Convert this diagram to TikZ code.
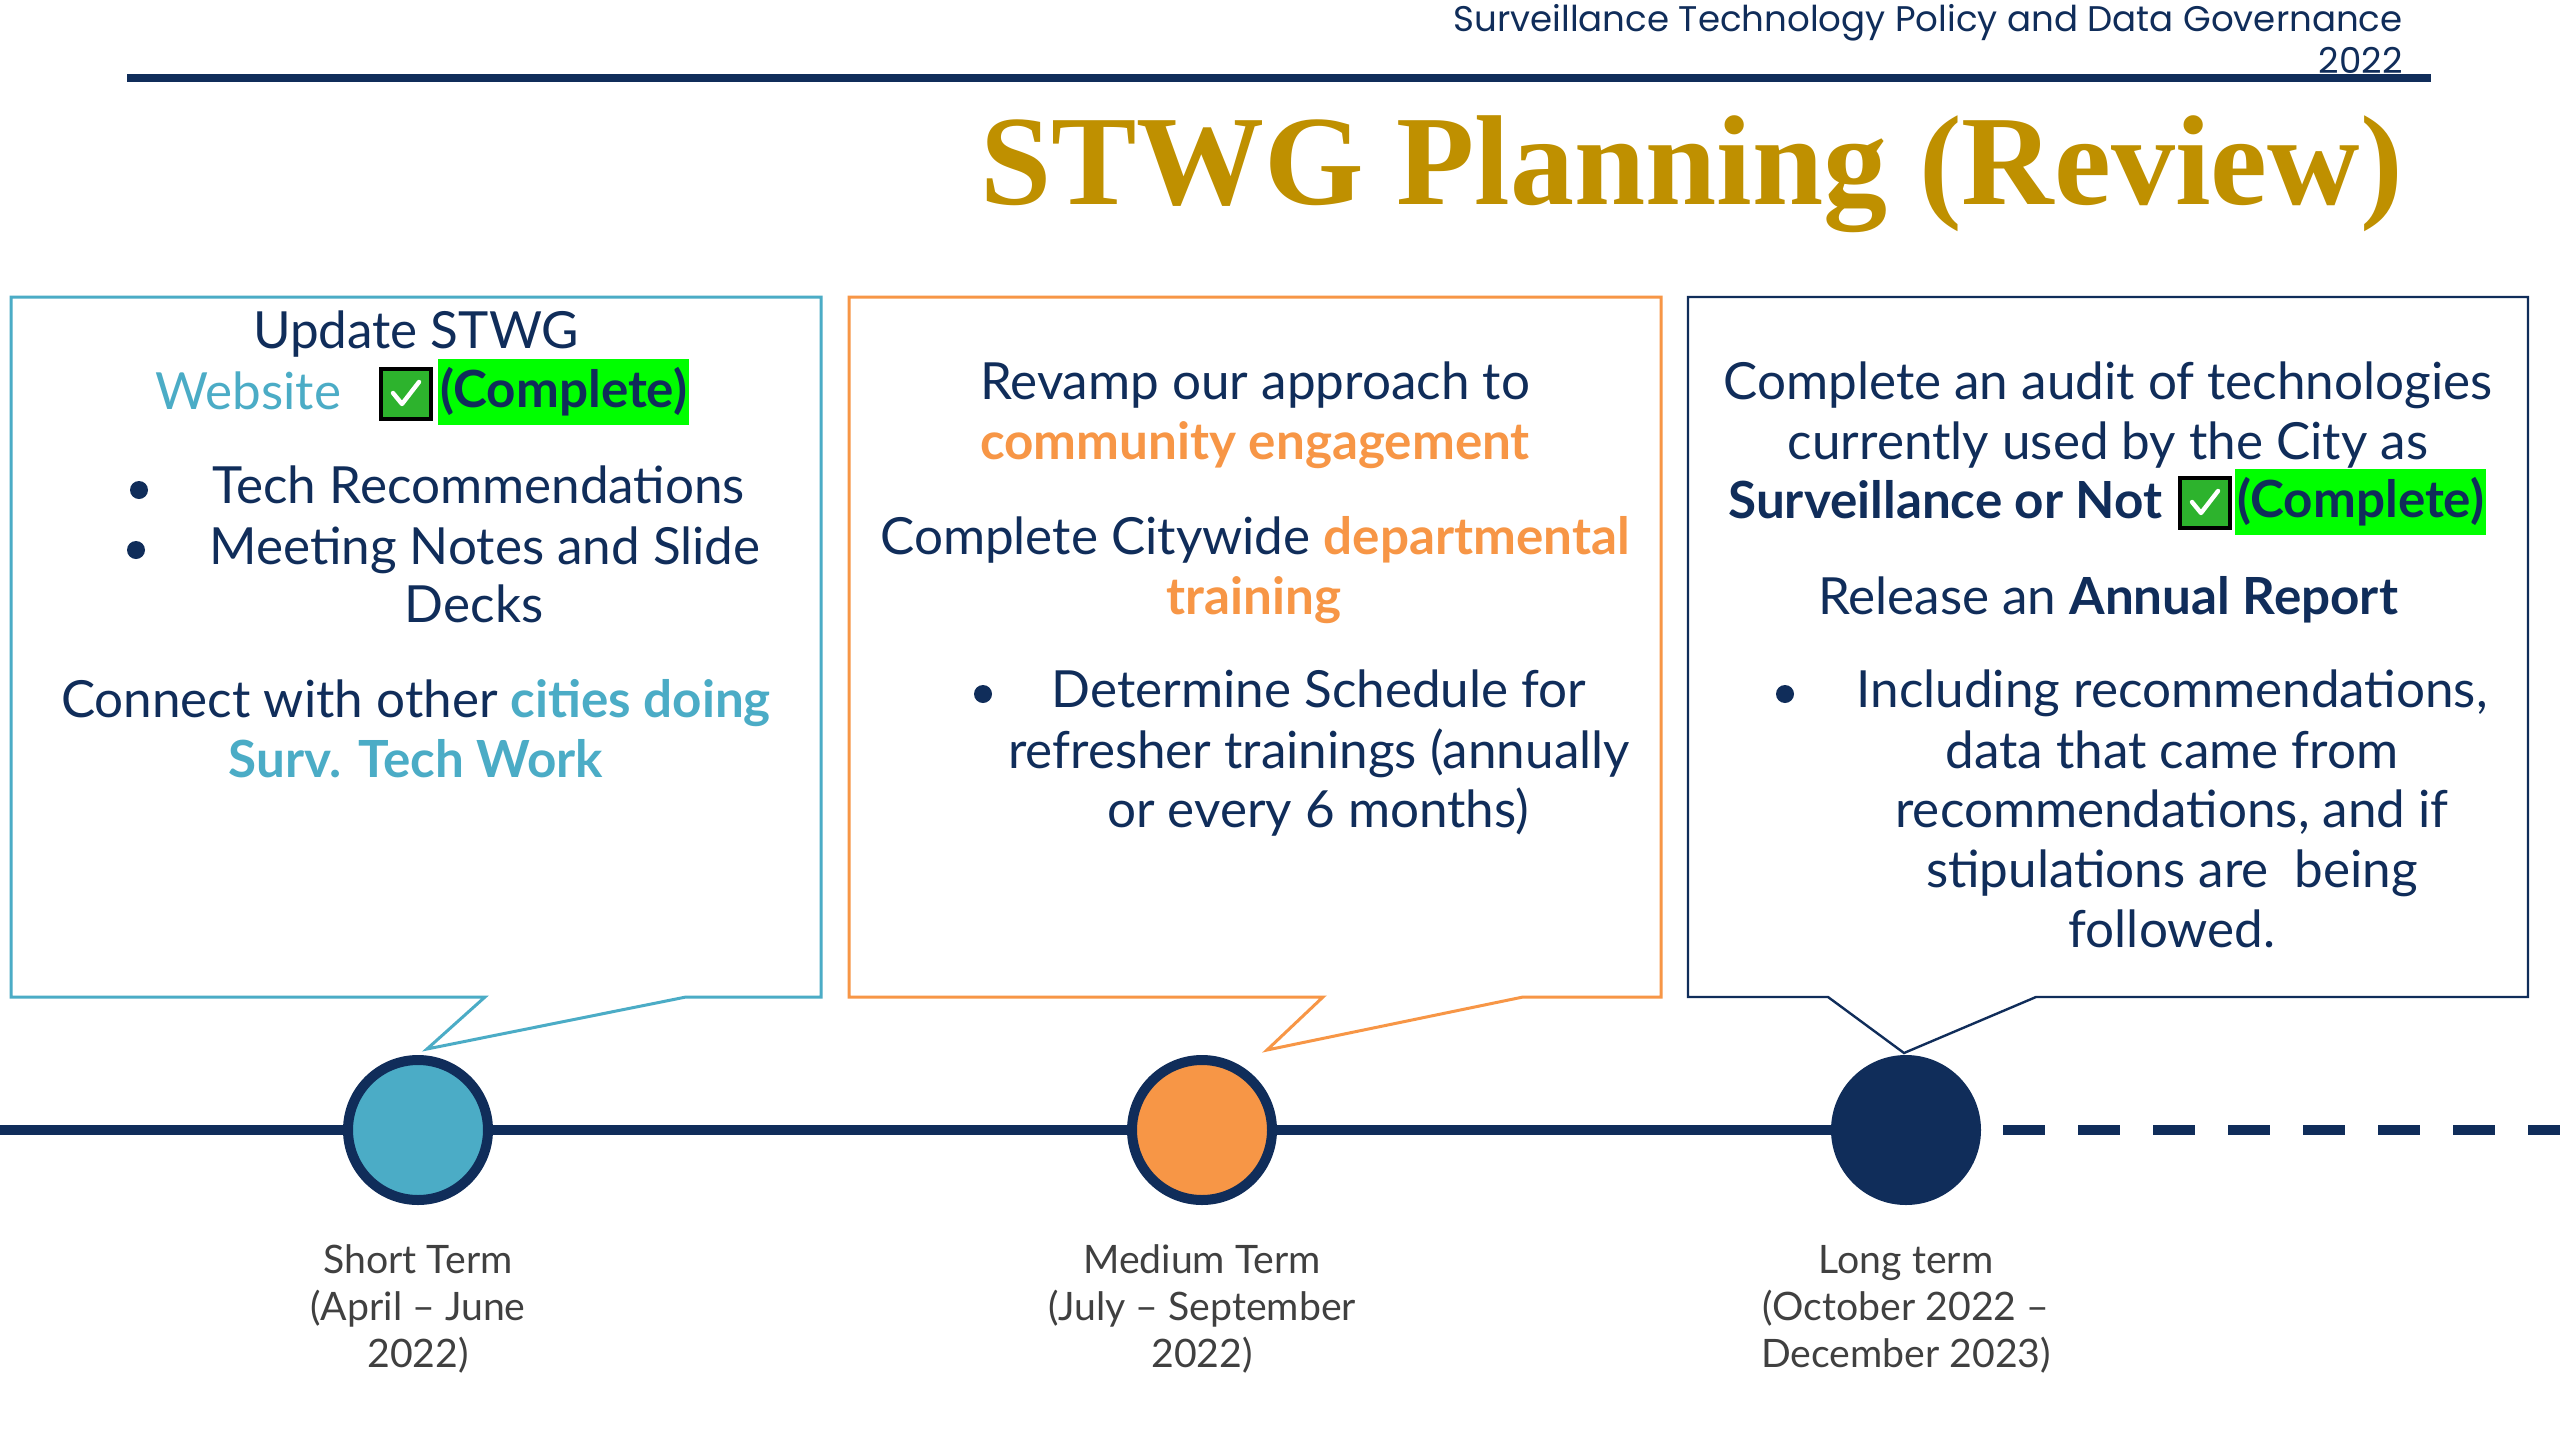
\documentclass[tikz,border=0pt]{standalone}
\usepackage{fontspec}
\setmainfont{Lato}
\newfontfamily\popfont{Poppins}
\newfontfamily\titlefont{Liberation Serif}
\definecolor{navy}{HTML}{102D5A}
\definecolor{stteal}{HTML}{4BACC6}
\definecolor{storange}{HTML}{F79646}
\definecolor{gold}{HTML}{BF9000}
\definecolor{hlgreen}{HTML}{00FF00}
\definecolor{chkgreen}{HTML}{2DB32D}
\definecolor{lblgrey}{HTML}{404040}
\begin{document}
\begin{tikzpicture}[x=0.5pt,y=-0.5pt,
  body/.style={font=\fontsize{25.6}{30}\selectfont, text=navy, inner sep=0pt, anchor=base},
  bbody/.style={body, font=\fontsize{25.6}{30}\selectfont\bfseries},
  lbl/.style={font=\fontsize{19.6}{23}\selectfont, text=lblgrey, inner sep=0pt, anchor=base},
  dot/.style={circle, fill=navy, inner sep=0pt, minimum size=9pt},
  chk/.style={draw=black, line width=2pt, fill=chkgreen, minimum size=25pt, inner sep=0pt},
  hl/.style={fill=hlgreen, inner xsep=1pt, inner ysep=0pt, minimum height=33pt, font=\fontsize{25.6}{30}\selectfont\bfseries, text=navy, anchor=west},
  tick/.style={draw=white, line width=2.2pt, line cap=round, line join=round},
  milestone/.style={circle, draw=navy, line width=5pt, minimum size=70pt, inner sep=0pt},
  tl/.style={draw=navy, line width=5pt}
]
\fill[white] (0,0) rectangle (2560,1440);
\useasboundingbox (0,0) rectangle (2560,1440);

% header
\node[font=\popfont\fontsize{17.8}{21}\selectfont, text=navy, inner sep=0pt, anchor=base east] (hdr1) at (2403,32) {Surveillance Technology Policy and Data Governance};
\node[font=\popfont\fontsize{17.8}{21}\selectfont, text=navy, inner sep=0pt, anchor=base east] (hdr2) at (2403,73) {2022};
\coordinate (rl) at (127,78);
\coordinate (rr) at (2431,78);
\draw[navy, line width=4pt] (rl) -- (rr);
\node[font=\titlefont\bfseries\fontsize{64}{70}\selectfont, text=gold, inner sep=0pt, anchor=base east] (title) at (2403,204) {STWG Planning (Review)};

% callout boxes
\draw[stteal, line width=1.5pt, fill=white] (11,297) -- (821,297) -- (821,997) -- (686,997) -- (427,1049) -- (485,997) -- (11,997) -- cycle;
\draw[storange, line width=1.5pt, fill=white] (849,297) -- (1661,297) -- (1661,997) -- (1523,997) -- (1267,1050) -- (1323,997) -- (849,997) -- cycle;
\draw[navy, line width=1.2pt, fill=white] (1688,297) -- (2528,297) -- (2528,997) -- (2036,997) -- (1904,1053) -- (1828,997) -- (1688,997) -- cycle;

% box 1 text
\node[body] (a1) at (416,348) {Update STWG};
\node[body, anchor=base west, text=stteal] (a2) at (155,409) {Website};
\node[chk] (chka) at (406,394) {};
\draw[tick] (chka.center) ++(-13,-1) -- ++(9,11) -- ++(17,-22);
\node[hl] (cpa) at (438,392) {(Complete)};
\node[dot] (ba1) at (139,490) {};
\node[body, anchor=base west] (a3) at (212,503) {Tech Recommendations};
\node[dot] (ba2) at (136,550) {};
\node[body, anchor=base west] (a4) at (209,564) {Meeting Notes and Slide};
\node[body] (a5) at (474,622) {Decks};
\node[body] (a6) at (416,717) {Connect with other \textcolor{stteal}{\bfseries cities doing}};
\node[bbody, text=stteal] (a7) at (416,777) {Surv. Tech Work};

% box 2 text
\node[body] (m1) at (1255,399) {Revamp our approach to};
\node[bbody, text=storange] (m2) at (1255,459) {community engagement};
\node[body] (m3) at (1255,554) {Complete Citywide \textcolor{storange}{\bfseries departmental}};
\node[bbody, text=storange] (m4) at (1254,614) {training};
\node[dot] (bm1) at (983,694) {};
\node[body] (m5) at (1319,707) {Determine Schedule for};
\node[body] (m6) at (1319,768) {refresher trainings (annually};
\node[body] (m7) at (1318,827) {or every 6 months)};

% box 3 text
\node[body] (l1) at (2108,399) {Complete an audit of technologies};
\node[body] (l2) at (2108,459) {currently used by the City as};
\node[bbody, anchor=base west] (l3) at (1728,518) {Surveillance or Not};
\node[chk] (chkl) at (2205,503) {};
\draw[tick] (chkl.center) ++(-13,-1) -- ++(9,11) -- ++(17,-22);
\node[hl] (cpl) at (2235,502) {(Complete)};
\node[body] (l4) at (2108,614) {Release an \textbf{Annual Report}};
\node[dot] (bl1) at (1785,694) {};
\node[body] (l5) at (2172,707) {Including recommendations,};
\node[body] (l6) at (2172,768) {data that came from};
\node[body] (l7) at (2172,827) {recommendations, and if};
\node[body] (l8) at (2172,887) {stipulations are~ being};
\node[body] (l9) at (2172,947) {followed.};

% timeline
\coordinate (tlstart) at (0,1130);
\coordinate (dstart) at (2003,1130);
\coordinate (tlend) at (2560,1130);
\node[milestone, fill=stteal] (c1) at (418,1130) {};
\node[milestone, fill=storange] (c2) at (1202,1130) {};
\node[milestone, fill=navy] (c3) at (1906,1130) {};
\draw[tl] (tlstart) -- (c1) -- (c2) -- (c3);
\draw[tl, dash pattern=on 21pt off 16.5pt] (dstart) -- (tlend);

% labels
\node[lbl] (s1) at (418,1273) {Short Term};
\node[lbl] (s2) at (418,1320) {(April – June};
\node[lbl] (s3) at (418,1367) {2022)};
\node[lbl] (md1) at (1202,1273) {Medium Term};
\node[lbl] (md2) at (1202,1320) {(July – September};
\node[lbl] (md3) at (1202,1367) {2022)};
\node[lbl] (lg1) at (1906,1273) {Long term};
\node[lbl] (lg2) at (1906,1320) {(October 2022 –};
\node[lbl] (lg3) at (1906,1367) {December 2023)};
\end{tikzpicture}
\end{document}
